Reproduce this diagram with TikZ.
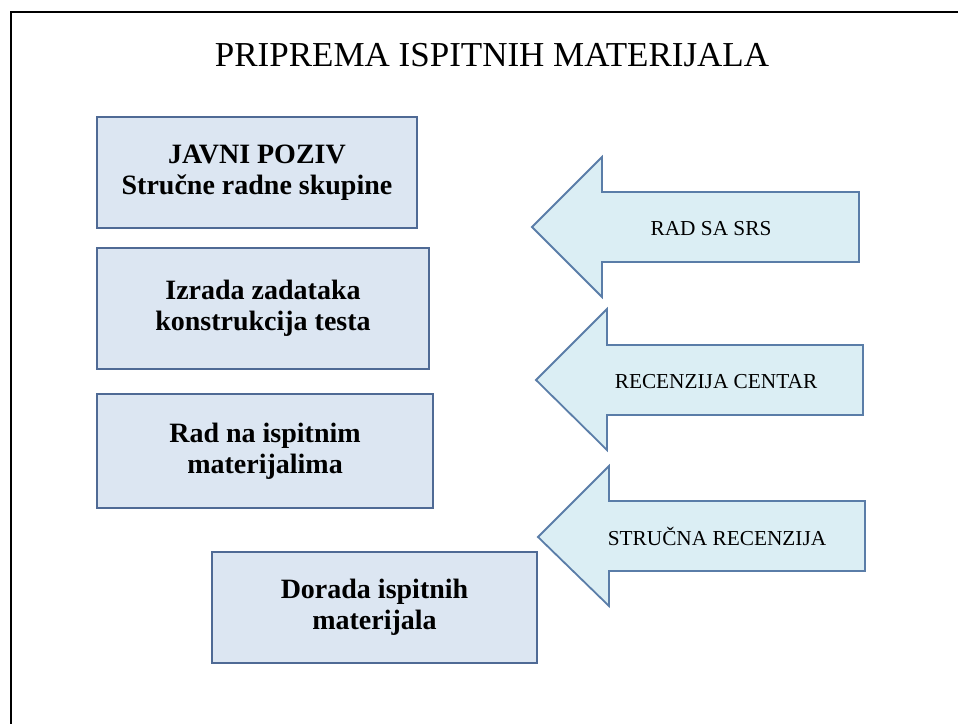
\documentclass[tikz,border=0pt]{standalone}
\usepackage{fontspec}
\setmainfont{Liberation Serif}
\usetikzlibrary{positioning}
\definecolor{boxfill}{HTML}{DCE6F2}
\definecolor{boxline}{HTML}{4F6A95}
\definecolor{arrowfill}{HTML}{DBEEF4}
\definecolor{arrowline}{HTML}{5A7DA8}
\tikzset{
  stagebox/.style={draw=boxline, fill=boxfill, line width=1.8pt, inner sep=0pt, outer sep=0pt,
    align=center, font=\bfseries\fontsize{28}{31}\selectfont},
  blockarrow/.style={draw=arrowline, fill=arrowfill, line width=1.8pt, line join=miter},
  arrowtext/.style={anchor=base, inner sep=0pt, font=\fontsize{21.3}{24}\selectfont}
}

\begin{document}
\begin{tikzpicture}[x=1pt,y=-1pt]

\useasboundingbox (0,0) rectangle (958,723);

% Frame, cut off at the right and bottom
\draw [line width=2.5pt] (11,730) -- (11,12) -- (965,12);

% Title
\node [anchor=base, inner sep=0pt, font=\fontsize{35}{40}\selectfont] (title) at (492,66) {PRIPREMA ISPITNIH MATERIJALA};

% Stages on the left
\node [stagebox, minimum width=320pt, minimum height=111pt] (poziv) at (257,172.5) {JAVNI POZIV\\Stručne radne skupine};
\node [stagebox, minimum width=332pt, minimum height=121pt] (izrada) at (263,308.5) {Izrada zadataka\\konstrukcija testa};
\node [stagebox, minimum width=336pt, minimum height=114pt] (rad) at (265,451) {Rad na ispitnim\\materijalima};
\node [stagebox, minimum width=325pt, minimum height=111pt] (dorada) at (374.5,607.5) {Dorada ispitnih\\materijala};

% Block arrows on the right
\draw [blockarrow] (532,227) -- (602,157) -- (602,192) -- (859,192) -- (859,262) -- (602,262) -- (602,297) -- cycle;
\node [arrowtext] (srs) at (711,235) {RAD SA SRS};

\draw [blockarrow] (536,380) -- (607,309) -- (607,345) -- (863,345) -- (863,415) -- (607,415) -- (607,450) -- cycle;
\node [arrowtext] (centar) at (716,388) {RECENZIJA CENTAR};

\draw [blockarrow] (538,537) -- (609,466) -- (609,501) -- (865,501) -- (865,571) -- (609,571) -- (609,606) -- cycle;
\node [arrowtext] (strucna) at (717,545) {STRUČNA RECENZIJA};

\end{tikzpicture}
\end{document}
